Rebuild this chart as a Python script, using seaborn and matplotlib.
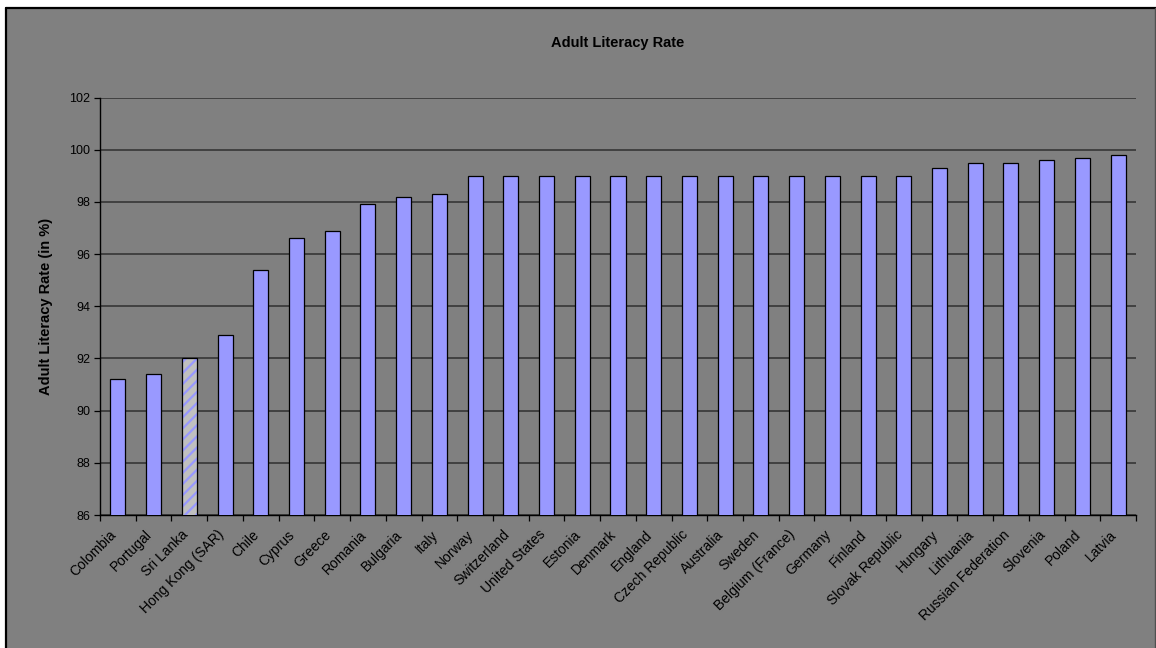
import matplotlib
matplotlib.use("Agg")
import matplotlib.pyplot as plt
from matplotlib.patches import Rectangle
from matplotlib.lines import Line2D
import seaborn as sns
import pandas as pd
import numpy as np

countries = [
    "Colombia", "Portugal", "Sri Lanka", "Hong Kong (SAR)", "Chile", "Cyprus",
    "Greece", "Romania", "Bulgaria", "Italy", "Norway", "Switzerland",
    "United States", "Estonia", "Denmark", "England", "Czech Republic",
    "Australia", "Sweden", "Belgium (France)", "Germany", "Finland",
    "Slovak Republic", "Hungary", "Lithuania", "Russian Federation",
    "Slovenia", "Poland", "Latvia",
]
literacy = [
    91.2, 91.4, 92.0, 92.9, 95.4, 96.6, 96.9, 97.9, 98.2, 98.3, 99.0, 99.0,
    99.0, 99.0, 99.0, 99.0, 99.0, 99.0, 99.0, 99.0, 99.0, 99.0, 99.0, 99.3,
    99.5, 99.5, 99.6, 99.7, 99.8,
]
highlight = "Sri Lanka"
y_ticks = [86, 88, 90, 92, 94, 96, 98, 100, 102]

BG = "#808080"
BAR = "#9999FF"
GRID = "#303030"

sns.set_theme(style="white")
plt.rcParams["font.family"] = ["Liberation Sans", "DejaVu Sans"]
plt.rcParams.update({
    "text.color": "black",
    "axes.labelcolor": "black",
    "xtick.color": "black",
    "ytick.color": "black",
    "hatch.linewidth": 1.6,
})

W, H = 1156, 648
fig = plt.figure(figsize=(W / 100, H / 100), dpi=100)
fig.patch.set_facecolor("white")

# chart area background with its frame
fig.add_artist(Rectangle((6 / W, 0), 1.0, 1 - 8 / H, transform=fig.transFigure,
                         facecolor=BG, edgecolor="none", zorder=-10))
fig.add_artist(Line2D([6 / W, 1], [1 - 8 / H, 1 - 8 / H], transform=fig.transFigure,
                      color="black", lw=1.6))
fig.add_artist(Line2D([6 / W, 6 / W], [0, 1 - 8 / H], transform=fig.transFigure,
                      color="black", lw=1.6))
fig.add_artist(Line2D([1155 / W, 1155 / W], [0, 1 - 8 / H], transform=fig.transFigure,
                      color="#505050", lw=1.0))

left, right, top, bottom = 100, 1136, 97.5, 515
ax = fig.add_axes([left / W, (H - bottom) / H, (right - left) / W, (bottom - top) / H])
ax.set_facecolor(BG)

df = pd.DataFrame({"Country": countries, "Rate": literacy})
sns.barplot(data=df, x="Country", y="Rate", color=BAR, saturation=1,
            width=0.42, edgecolor="black", linewidth=0.9, ax=ax, zorder=3)

hi = countries.index(highlight)
patch = ax.patches[hi]
patch.set_facecolor("#C0C0C0")
patch.set_edgecolor(BAR)
patch.set_hatch("///")
patch.set_linewidth(0)
ax.bar([hi], [literacy[hi]], width=0.42, fill=False, edgecolor="black",
       linewidth=0.9, zorder=4)

ax.set_ylim(86, 102)
ax.set_xlim(-0.5, len(countries) - 0.5)
ax.set_yticks(y_ticks)
ax.set_yticklabels([str(v) for v in y_ticks], fontsize=9)
ax.yaxis.grid(True, color=GRID, linewidth=1.1)
ax.set_axisbelow(True)

# slanted category labels end just left of each bar centre
label_offset = 0.24
ax.set_xticks(np.arange(len(countries)) - label_offset)
ax.set_xticklabels(countries, rotation=45, ha="right", rotation_mode="anchor",
                   fontsize=10)
ax.set_xticks(np.arange(-0.5, len(countries)), minor=True)
ax.tick_params(axis="x", which="major", length=0, pad=9)
ax.tick_params(axis="x", which="minor", length=4, width=0.9, color="black",
               direction="out", bottom=True)
ax.tick_params(axis="y", length=4, width=0.9, color="black", direction="out",
               left=True, pad=3)

for s in ["top", "right"]:
    ax.spines[s].set_visible(False)
for s in ["left", "bottom"]:
    ax.spines[s].set_color("black")
    ax.spines[s].set_linewidth(1.0)

ax.set_xlabel("")
ax.set_ylabel("Adult Literacy Rate (in %)", fontsize=10.5, fontweight="bold",
              labelpad=12)
fig.text(0.5 * (left + right) / W, 1 - 43 / H, "Adult Literacy Rate",
         ha="center", va="center", fontsize=10.5, fontweight="bold")

fig.savefig("out.png", dpi=100, facecolor=fig.get_facecolor())
